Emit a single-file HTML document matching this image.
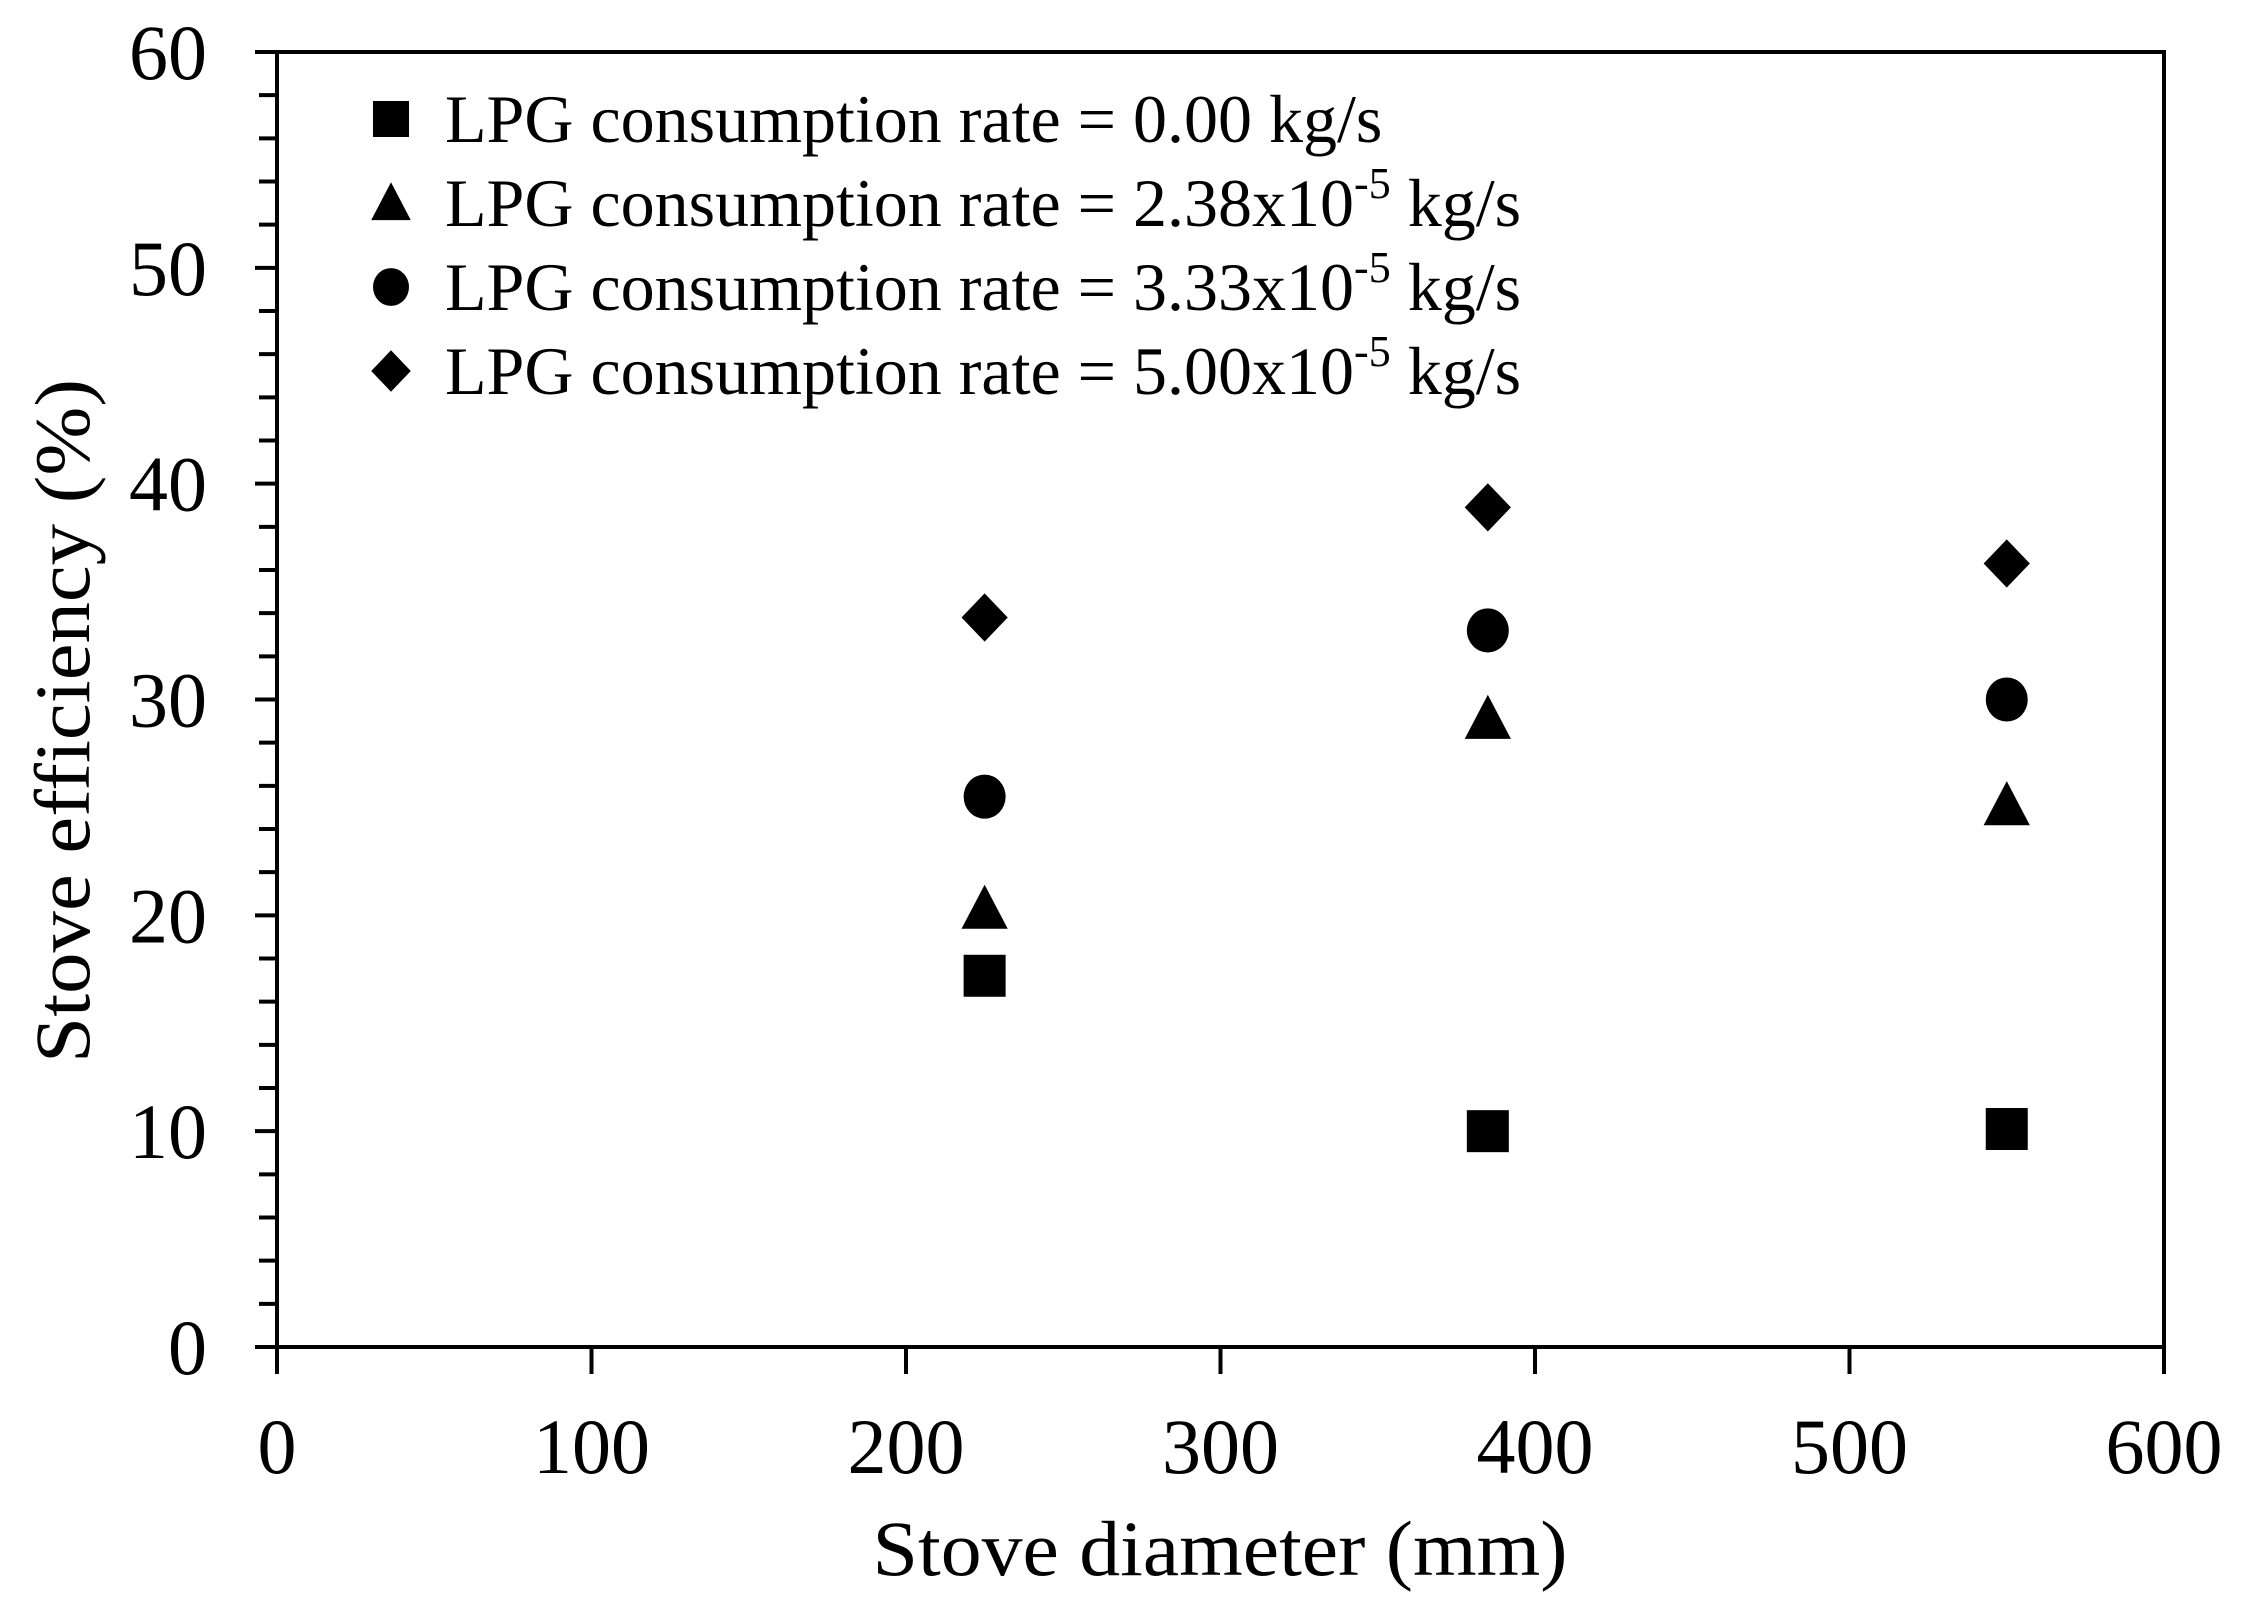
<!DOCTYPE html>
<html><head><meta charset="utf-8"><style>
html,body{margin:0;padding:0;background:#fff}
svg{display:block}
text{font-family:"Liberation Serif",serif;fill:#000}
</style></head><body>
<svg id="chart" width="2246" height="1619" viewBox="0 0 2246 1619" xmlns="http://www.w3.org/2000/svg">
<rect width="2246" height="1619" fill="#fff"/>
<g id="axes"></g>
<g id="marks"></g>
<g id="legend"></g>
<text x="1220" y="1575" font-size="78" text-anchor="middle" textLength="695" lengthAdjust="spacingAndGlyphs">Stove diameter (mm)</text>
<text transform="translate(89,721) rotate(-90)" font-size="78" text-anchor="middle" textLength="684" lengthAdjust="spacingAndGlyphs">Stove efficiency (%)</text>
</svg>
<script>
const diameters = [225, 385, 550];
const seriesSquare = [17.2, 10.0, 10.1];
const seriesTriangle = [20.3, 29.1, 25.1];
const seriesCircle = [25.5, 33.2, 30.0];
const seriesDiamond = [33.8, 38.9, 36.3];
const xTicks = [0, 100, 200, 300, 400, 500, 600];
const yTicks = [0, 10, 20, 30, 40, 50, 60];
const legendLabels = ["LPG consumption rate = 0.00 kg/s", "LPG consumption rate = 2.38x10", "LPG consumption rate = 3.33x10", "LPG consumption rate = 5.00x10"];

const NS = "http://www.w3.org/2000/svg";
const X0 = 277, X1 = 2164, Y0 = 1347, Y1 = 52;
const xs = v => X0 + (v - 0) / 600 * (X1 - X0);
const ys = v => Y0 - (v - 0) / 60 * (Y0 - Y1);
function mk(tag, attrs, parent) {
  const e = document.createElementNS(NS, tag);
  for (const k in attrs) e.setAttribute(k, attrs[k]);
  parent.appendChild(e);
  return e;
}
const axes = document.getElementById('axes');
const frame = mk('rect', {x: X0, y: Y1, width: X1 - X0, height: Y0 - Y1, fill: 'none', stroke: '#000', 'stroke-width': 4}, axes);


// y ticks major + minor
for (let v = 0; v <= 60; v += 2) {
  const major = v % 10 === 0;
  const t = mk('line', {x1: X0 - (major ? 22 : 18), x2: X0, y1: ys(v), y2: ys(v), stroke: '#000', 'stroke-width': 4}, axes);
  
  
}
yTicks.forEach(v => {
  const t = mk('text', {x: 207, y: ys(v) + 27, 'font-size': 78, 'text-anchor': 'end'}, axes);
  t.textContent = v;
  
  
});
xTicks.forEach(v => {
  const l = mk('line', {x1: xs(v), x2: xs(v), y1: Y0, y2: Y0 + 27, stroke: '#000', 'stroke-width': 4}, axes);
  
  
  const t = mk('text', {x: xs(v), y: 1473, 'font-size': 78, 'text-anchor': 'middle'}, axes);
  t.textContent = v;
  
  
});
function marker(shape, cx, cy, s, parent) {
  let e;
  const h = s / 2;
  if (shape === 'square') e = mk('rect', {x: cx - h, y: cy - h, width: s, height: s}, parent);
  else if (shape === 'triangle') e = mk('polygon', {points: `${cx},${cy - h * 1.15} ${cx + h * 1.1},${cy + h * 0.95} ${cx - h * 1.1},${cy + h * 0.95}`}, parent);
  else if (shape === 'circle') e = mk('ellipse', {cx: cx, cy: cy, rx: h, ry: h * 1.05}, parent);
  else e = mk('polygon', {points: `${cx},${cy - h * 1.15} ${cx + h * 1.1},${cy} ${cx},${cy + h * 1.15} ${cx - h * 1.1},${cy}`}, parent);
  e.setAttribute('fill', '#000');
  return e;
}
const series = [['square', seriesSquare], ['triangle', seriesTriangle], ['circle', seriesCircle], ['diamond', seriesDiamond]];
const marks = document.getElementById('marks');
series.forEach(([shape, vals]) => {
  vals.forEach((v, i) => {
    const e = marker(shape, xs(diameters[i]), ys(v), 42, marks);
    
    
  });
});
const legend = document.getElementById('legend');
const rowY = [119, 203, 287, 371];
series.forEach(([shape], i) => {
  const m = marker(shape, 391, rowY[i], 36, legend);
  
  
  const t = mk('text', {x: 445, y: rowY[i] + 23, 'font-size': 68}, legend);
  
  
  t.appendChild(document.createTextNode(legendLabels[i]));
  if (i > 0) {
    const sup = mk('tspan', {'font-size': 44, dy: -28}, t);
    sup.textContent = '-5';
    const rest = mk('tspan', {dy: 28}, t);
    rest.textContent = ' kg/s';
  }
});
</script>
</body></html>
